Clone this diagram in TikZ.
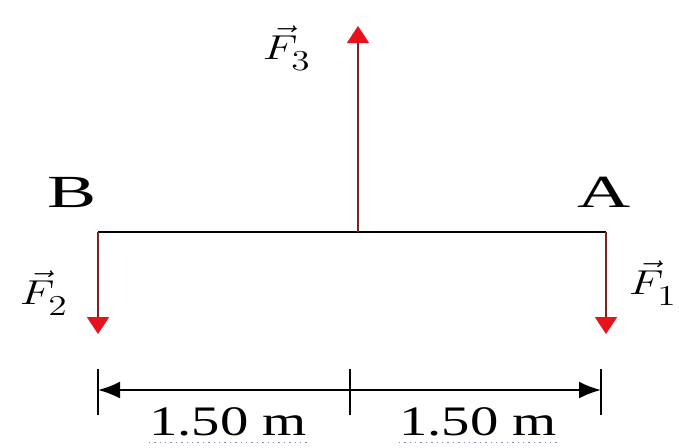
\documentclass[tikz,border=0pt]{standalone}
\usepackage{fontspec}
\setmainfont{Liberation Serif}
\usetikzlibrary{arrows.meta}
\definecolor{forcered}{HTML}{E8121C}
\definecolor{shaftred}{HTML}{7A2424}
\definecolor{spellline}{HTML}{9A7FC8}
\newcommand{\lowsub}[1]{_{\raisebox{-3pt}{$\scriptstyle #1$}}}
\tikzset{
    beam/.style={line width=1.1pt,black},
    force/.style={line width=0.9pt,draw=shaftred,-{Triangle[length=8.5pt,width=11pt,color=forcered]}},
    tick/.style={line width=1.1pt,black},
    dim/.style={line width=1.1pt,black,{Latex[length=11pt,width=8.5pt]}-{Latex[length=11pt,width=8.5pt]}},
    ptlabel/.style={font=\fontsize{23}{25}\selectfont,inner sep=0pt,xscale=1.6},
    flabel/.style={font=\fontsize{19}{21}\selectfont,inner sep=0pt,xscale=1.3},
    dimlabel/.style={font=\fontsize{21}{23}\selectfont,inner sep=0pt,xscale=1.35},
    spell/.style={spellline,line width=0.7pt,dotted}
}
\begin{document}
\begin{tikzpicture}[x=0.5pt,y=-0.5pt]
\useasboundingbox (0,0) rectangle (679,447);
% beam and end points
\coordinate (B) at (98,232);
\coordinate (A) at (606,232);
\coordinate (M) at (358,232);
\draw[beam] (B) -- (A);
% forces
\coordinate (f2) at (98,334);
\coordinate (f1) at (606,334);
\coordinate (f3) at (358,26);
\draw[force] (B) -- (f2);
\draw[force] (A) -- (f1);
\draw[force] (M) -- (f3);
\node[ptlabel] (labB) at (72,192) {B};
\node[ptlabel] (labA) at (604,192) {A};
\node[flabel] (labF3) at (287,48) {$\vec{F}\lowsub{3}$};
\node[flabel] (labF2) at (44,293) {$\vec{F}\lowsub{2}$};
\node[flabel] (labF1) at (653,283) {$\vec{F}\lowsub{1}$};
% dimension line
\coordinate (d0) at (98,390);
\coordinate (d1) at (350,390);
\coordinate (d2) at (601,390);
\foreach \c in {d0,d1,d2}{
    \draw[tick] ([yshift=-12.5pt]\c) -- ([yshift=10.5pt]\c);
}
\draw[dim] (d0) -- (d2);
\node[dimlabel] (len1) at (228,422) {1.50 m};
\node[dimlabel] (len2) at (478,422) {1.50 m};
\draw[spell] ([yshift=-3pt]len1.south west) -- ([yshift=-3pt]len1.south east);
\draw[spell] ([yshift=-3pt]len2.south west) -- ([yshift=-3pt]len2.south east);
\end{tikzpicture}
\end{document}
